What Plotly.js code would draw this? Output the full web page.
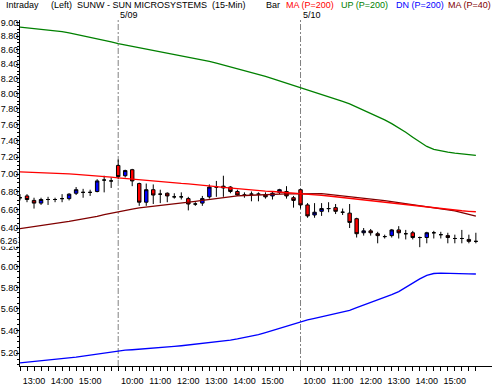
<!DOCTYPE html>
<html>
<head>
<meta charset="utf-8">
<script src="https://cdn.plot.ly/plotly-3.0.1.min.js"></script>
<style>html,body{margin:0;padding:0;background:#fff;}#chart{width:492px;height:387px;}</style>
</head>
<body>
<div id="chart"></div>
<script>
// ---- Data (15-min bars, SUNW) ----
const barTimes = [
  "12:30","12:45","13:00","13:15","13:30","13:45","14:00","14:15","14:30","14:45","15:00","15:15","15:30","15:45",
  "09:30","09:45","10:00","10:15","10:30","10:45","11:00","11:15","11:30","11:45","12:00","12:15","12:30","12:45",
  "13:00","13:15","13:30","13:45","14:00","14:15","14:30","14:45","15:00","15:15","15:30","15:45",
  "09:30","09:45","10:00","10:15","10:30","10:45","11:00","11:15","11:30","11:45","12:00","12:15","12:30","12:45",
  "13:00","13:15","13:30","13:45","14:00","14:15","14:30","14:45","15:00","15:15","15:30","15:45"
];
const dayLabels = ["5/09", "5/10"];

const openP = [6.73,6.75,6.70,6.67,6.71,6.71,6.72,6.72,6.78,6.79,6.79,6.80,6.93,6.92,
  7.10,6.98,7.05,6.89,6.68,6.82,6.77,6.78,6.74,6.74,6.72,6.66,6.67,6.74,6.85,6.86,6.85,6.80,6.76,6.77,6.77,6.76,6.75,6.79,6.80,6.73,
  6.82,6.65,6.54,6.58,6.61,6.62,6.57,6.56,6.50,6.35,6.37,6.34,6.31,6.32,6.38,6.34,6.35,6.30,6.30,6.35,6.33,6.32,6.29,6.29,6.28,6.26];
const highP = [6.77,6.77,6.73,6.73,6.74,6.73,6.77,6.78,6.85,6.83,6.82,6.94,6.98,6.96,
  7.17,7.05,7.06,6.90,6.89,6.88,6.82,6.79,6.78,6.79,6.74,6.68,6.75,6.88,6.92,6.98,6.86,6.82,6.79,6.80,6.79,6.79,6.80,6.83,6.86,6.75,
  6.83,6.67,6.67,6.67,6.68,6.66,6.61,6.66,6.51,6.40,6.39,6.36,6.33,6.39,6.42,6.38,6.37,6.31,6.36,6.37,6.36,6.35,6.33,6.38,6.33,6.35];
const lowP = [6.70,6.68,6.61,6.65,6.65,6.68,6.68,6.70,6.76,6.73,6.75,6.79,6.79,6.84,
  6.94,6.96,6.86,6.64,6.64,6.66,6.67,6.68,6.72,6.71,6.59,6.64,6.64,6.72,6.74,6.74,6.78,6.75,6.73,6.69,6.69,6.72,6.71,6.77,6.72,6.62,
  6.61,6.51,6.51,6.53,6.57,6.55,6.54,6.40,6.30,6.32,6.32,6.24,6.29,6.30,6.29,6.28,6.28,6.20,6.24,6.29,6.29,6.24,6.24,6.24,6.24,6.24];
const closeP = [6.73,6.71,6.67,6.71,6.71,6.71,6.72,6.77,6.82,6.79,6.79,6.92,6.93,6.92,
  6.97,7.04,6.92,6.68,6.82,6.76,6.77,6.75,6.74,6.74,6.66,6.66,6.72,6.85,6.85,6.84,6.80,6.76,6.76,6.77,6.77,6.74,6.78,6.82,6.75,6.70,
  6.65,6.53,6.57,6.61,6.61,6.58,6.57,6.46,6.34,6.37,6.35,6.32,6.31,6.38,6.35,6.34,6.30,6.30,6.35,6.35,6.33,6.30,6.29,6.29,6.26,6.26];

const ma200 = [7.024,7.022,7.019,7.017,7.014,7.011,7.007,7.002,6.996,6.991,6.985,6.978,6.971,6.963,
  6.956,6.948,6.940,6.932,6.924,6.917,6.909,6.903,6.897,6.891,6.886,6.880,6.872,6.863,6.855,6.846,6.838,6.831,6.825,6.818,6.811,6.805,6.800,6.795,6.790,6.785,
  6.780,6.773,6.765,6.757,6.749,6.740,6.732,6.724,6.716,6.708,6.700,6.690,6.680,6.670,6.660,6.651,6.641,6.632,6.622,6.613,6.604,6.598,6.592,6.586,6.580,6.575];
const up200 = [8.930,8.920,8.909,8.899,8.888,8.877,8.864,8.847,8.826,8.806,8.785,8.762,8.738,8.714,
  8.690,8.670,8.650,8.630,8.610,8.591,8.571,8.553,8.535,8.517,8.500,8.482,8.462,8.437,8.412,8.386,8.361,8.337,8.314,8.290,8.260,8.230,8.200,8.170,8.140,8.110,
  8.080,8.051,8.020,7.989,7.958,7.926,7.895,7.864,7.824,7.784,7.744,7.701,7.657,7.610,7.560,7.501,7.441,7.382,7.327,7.291,7.270,7.258,7.247,7.237,7.228,7.220];
const dn200 = [5.118,5.124,5.129,5.135,5.140,5.145,5.150,5.157,5.166,5.176,5.185,5.194,5.204,5.212,
  5.222,5.226,5.230,5.234,5.238,5.243,5.247,5.253,5.259,5.265,5.272,5.278,5.282,5.289,5.298,5.306,5.315,5.325,5.336,5.346,5.362,5.380,5.400,5.420,5.440,5.460,
  5.480,5.495,5.510,5.525,5.540,5.554,5.569,5.584,5.608,5.632,5.656,5.679,5.703,5.730,5.760,5.801,5.841,5.882,5.917,5.935,5.938,5.938,5.937,5.935,5.932,5.930];
const ma40 = [6.393,6.403,6.414,6.425,6.436,6.447,6.459,6.471,6.484,6.496,6.509,6.525,6.543,6.560,
  6.578,6.591,6.605,6.618,6.628,6.638,6.647,6.656,6.665,6.673,6.682,6.690,6.700,6.710,6.720,6.733,6.745,6.750,6.755,6.759,6.764,6.768,6.770,6.771,6.773,6.774,
  6.775,6.776,6.776,6.775,6.768,6.760,6.753,6.745,6.737,6.728,6.720,6.709,6.698,6.687,6.676,6.665,6.653,6.642,6.630,6.618,6.605,6.595,6.585,6.566,6.546,6.527];

const yTickVals = [5.2,5.4,5.6,5.8,6.0,6.2,6.4,6.6,6.8,7.0,7.2,7.4,7.6,7.8,8.0,8.2,8.4,8.6,8.8,9.0];
const lastPriceLabel = "6.26";

// ---- Build ----
const FONT = "Liberation Sans, Arial, sans-serif";
const idx = barTimes.map((t, i) => i);
const tickText = barTimes.map(t => t.endsWith(":00") ? t.replace(/^0/, "") : "");
const dividers = idx.filter(i => i > 0 && barTimes[i] === "09:30");

const minorVals = [];
for (let k = 102; k <= 180; k++) { if (k % 4 !== 0) minorVals.push(k * 0.05); }

const traces = [
  {type: "scatter", mode: "lines", x: idx, y: up200, line: {color: "#008000", width: 1.3}, hoverinfo: "skip"},
  {type: "scatter", mode: "lines", x: idx, y: dn200, line: {color: "#0000FF", width: 1.3}, hoverinfo: "skip"},
  {type: "scatter", mode: "lines", x: idx, y: ma40, line: {color: "#800000", width: 1.3}, hoverinfo: "skip"},
  {type: "scatter", mode: "lines", x: idx, y: ma200, line: {color: "#FF0000", width: 1.3}, hoverinfo: "skip"},
  {type: "candlestick", x: idx, open: openP, high: highP, low: lowP, close: closeP,
   increasing: {fillcolor: "#0000FF", line: {color: "#000000", width: 1}},
   decreasing: {fillcolor: "#FF0000", line: {color: "#000000", width: 1}},
   whiskerwidth: 0, hoverinfo: "skip"}
];

const L = 20, R = 0, T = 20, B = 21, W = 492, H = 387;
const pw = W - L - R, ph = H - T - B;
const px = X => (X - L) / pw;
const py = Y => (H - B - Y) / ph;

const headerItems = [
  {text: "Intraday", x: 5, color: "#000000"},
  {text: "(Left)", x: 50, color: "#000000"},
  {text: "SUNW - SUN MICROSYSTEMS\u00a0\u00a0(15-Min)", x: 76, color: "#000000"},
  {text: "Bar", x: 265, color: "#000000"},
  {text: "MA (P=200)", x: 285, color: "#FF0000"},
  {text: "UP (P=200)", x: 340, color: "#008000"},
  {text: "DN (P=200)", x: 395, color: "#0000FF"},
  {text: "MA (P=40)", x: 447, color: "#800000"}
];

const annotations = headerItems.map(h => ({
  text: h.text, xref: "paper", yref: "paper", x: px(h.x), y: py(5),
  xanchor: "left", yanchor: "middle", showarrow: false, borderpad: 0,
  font: {family: FONT, size: 9, color: h.color}
}));
dividers.forEach((d, j) => annotations.push({
  text: dayLabels[j], xref: "x", yref: "paper", x: d, y: py(15), xshift: 1,
  xanchor: "left", yanchor: "middle", showarrow: false, borderpad: 0,
  font: {family: FONT, size: 9, color: "#000000"}
}));
annotations.push({
  text: lastPriceLabel, xref: "paper", yref: "y", x: 0, y: Math.log10(parseFloat(lastPriceLabel)),
  xanchor: "right", yanchor: "middle", xshift: -1, showarrow: false, borderpad: 0,
  bgcolor: "#FFFFFF", font: {family: FONT, size: 9, color: "#000000"}
});

const shapes = dividers.map(d => ({
  type: "line", xref: "x", yref: "paper", x0: d, x1: d, y0: 0, y1: 1,
  line: {color: "#808080", width: 1, dash: "6px,2px,2px,2px"}, layer: "below"
}));

const layout = {
  width: W, height: H,
  margin: {l: L, r: R, t: T, b: B, pad: 0},
  paper_bgcolor: "#FFFFFF", plot_bgcolor: "#FFFFFF",
  showlegend: false,
  font: {family: FONT, size: 9, color: "#000000"},
  xaxis: {
    type: "linear", range: [0, 67.3], rangeslider: {visible: false},
    tickmode: "array", tickvals: idx, ticktext: tickText, tickangle: 0,
    ticks: "outside", ticklen: 4, tickcolor: "#000", tickwidth: 1,
    showline: true, linecolor: "#000", linewidth: 1,
    showgrid: false, zeroline: false, ticklabelstandoff: 2,
    tickfont: {family: FONT, size: 9, color: "#000"}, fixedrange: true
  },
  yaxis: {
    type: "log", range: [Math.log10(5.091), Math.log10(9.037)],
    tickmode: "array", tickvals: yTickVals, ticktext: yTickVals.map(v => v.toFixed(2)),
    ticks: "outside", ticklen: 3, tickcolor: "#000", tickwidth: 1,
    ticklabelstandoff: -4,
    minor: {tickmode: "array", tickvals: minorVals, ticks: "outside", ticklen: 2, tickcolor: "#000", showgrid: false},
    showline: true, linecolor: "#000", linewidth: 1,
    showgrid: false, zeroline: false,
    tickfont: {family: FONT, size: 9, color: "#000"}, fixedrange: true
  },
  shapes: shapes,
  annotations: annotations
};

Plotly.newPlot("chart", traces, layout, {displayModeBar: false, staticPlot: true});
</script>
</body>
</html>
